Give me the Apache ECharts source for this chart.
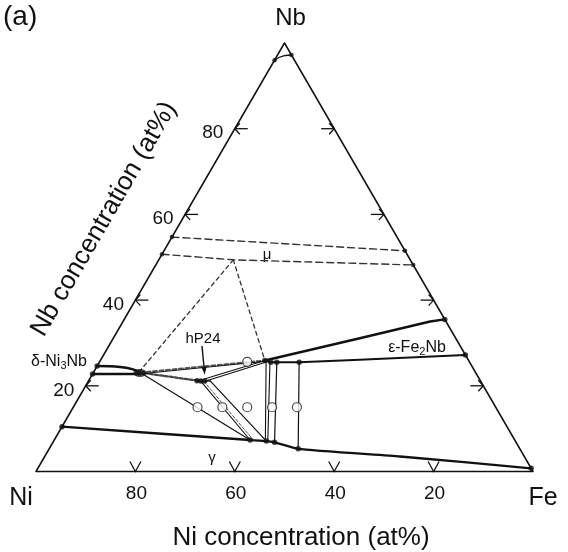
<!DOCTYPE html>
<html>
<head>
<meta charset="utf-8">
<script src="https://cdn.jsdelivr.net/npm/echarts@6/dist/echarts.min.js"></script>
<style>
  html, body { margin: 0; padding: 0; background: #fff; }
  #chart { width: 568px; height: 552px; }
</style>
</head>
<body>
<div id="chart"></div>
<script>
// Ni–Fe–Nb isothermal section. Every composition is [Ni at%, Nb at%]; Fe is the balance.
const FONT = "'Liberation Sans', Arial, Helvetica, sans-serif";

// Triangle vertices
const vertexNi = [100, 0];
const vertexFe = [0, 0];
const vertexNb = [0, 100];

// Axis ticks (Ni along the base, Nb along the two sides)
const tickValues = [20, 40, 60, 80];
const tickLabels = ['20', '40', '60', '80'];

// Small Nb-rich solid solution near the Nb corner
const nbCornerArc = [[4.0, 96.0], [1.7, 97.0], [0, 97.2]];

// mu phase field (dashed boundaries)
const muUpper = [[45.3, 54.7], [0, 51.5]];
const muLower = [[49.3, 50.7], [35.6, 49.4], [0, 48.2]];

// delta-Ni3Nb single-phase band
const deltaUpper = [[75.4, 24.6], [70.9, 24.4], [68.7, 23.9], [67.5, 23.1]];
const deltaLower = [[77.25, 22.75], [67.7, 22.75]];
const deltaEnd = [[67.6, 23.0]];

// three-phase triangle delta + Fe2Nb + mu (dashed)
const triLeft = [[35.6, 49.4], [67.2, 23.6]];
const triRight = [[35.6, 49.4], [41.0, 25.9]];

// hP24 phase
const hp24 = [[57.0, 21.2], [56.3, 21.1], [55.5, 21.1], [54.4, 21.2]];
const hp24Arrow = [[51.95, 29.3], [54.75, 22.6]];

// epsilon-Fe2Nb (Laves) single-phase field
const laveUpper = [[41.0, 25.9], [19.3, 31.1], [3.2, 35.0], [0, 35.5]];
const laveLower = [[41.0, 25.9], [40.0, 25.5], [38.8, 25.5], [34.3, 25.5], [21.8, 26.1], [0, 27.2]];

// gamma (fcc) solvus
const gammaLine = [[89.55, 10.45], [53.25, 7.35], [50.1, 7.1], [48.6, 6.8], [44.6, 5.3], [25.0, 3.5], [0, 0.75]];

// tie lines
const tieDeltaGamma = [[67.5, 23.1], [53.25, 7.35]];
const tieHpGammaA = [[56.3, 21.1], [53.25, 7.35]];
const tieHpGammaB = [[55.7, 21.1], [52.6, 7.3]];
const tieHpGammaC = [[54.4, 21.2], [50.1, 7.1]];
const tieDeltaHp = [[67.5, 23.1], [56.3, 21.1]];
const tieDeltaLave = [[67.5, 23.1], [41.0, 25.9]];
const tieDeltaLaveThin = [[67.5, 22.8], [44.7, 25.3], [41.0, 25.7]];
const tieHpLaveA = [[56.3, 21.3], [41.0, 25.9]];
const tieHpLaveB = [[56.0, 20.9], [40.7, 25.6]];
const tieLaveGammaA = [[40.8, 25.8], [50.3, 7.1]];
const tieLaveGammaB = [[40.15, 25.55], [49.8, 7.12]];
const tieLaveGammaC = [[38.8, 25.5], [48.6, 6.8]];
const tieLaveGammaD = [[34.3, 25.5], [44.6, 5.3]];

// boundary end points (filled dots)
const dotsSmall = [[4.0, 96.0], [0, 97.2], [45.3, 54.7], [0, 51.5], [49.3, 50.7], [0, 48.2]];
const dotsLarge = [[75.4, 24.6], [77.25, 22.75], [0, 35.5], [0, 27.2],
  [41.0, 25.9], [40.0, 25.5], [38.8, 25.5], [34.3, 25.5],
  [89.55, 10.45], [53.25, 7.35], [50.1, 7.1], [48.6, 6.8], [44.6, 5.3], [0, 0.75],
  [57.0, 21.2], [56.3, 21.1], [55.5, 21.1]];

// alloy compositions (open circles)
const alloys = [[60, 15], [55, 15], [50, 15], [45, 15], [40, 15], [44.7, 25.6]];

const H = Math.sqrt(3) / 2;
// ternary composition -> cartesian (Fe corner at x = 100, Nb corner on top)
function tern(c) {
  const ni = c[0], nb = c[1], fe = 100 - ni - nb;
  return [fe + nb / 2, nb * H];
}

function line(pts, width, dash, color, z) {
  return {
    type: 'line', data: pts.map(tern), symbol: 'none', clip: false, silent: true,
    animation: false, z: z || 3,
    lineStyle: { color: color || '#111', width: width, type: dash || 'solid', cap: 'round', join: 'round' }
  };
}

function dots(pts, size, filled) {
  return {
    type: 'scatter', data: pts.map(tern), symbol: 'circle', symbolSize: size, clip: false,
    silent: true, animation: false, z: 6,
    itemStyle: filled ? { color: '#111' } : { color: '#fff', borderColor: '#222', borderWidth: 1.2 }
  };
}

// tick marks: base ticks on Ni, side ticks on Nb
const tickData = [], tickSide = [], tickText = [];
tickValues.forEach((v, i) => {
  tickData.push(tern([v, 0])); tickSide.push('b'); tickText.push(tickLabels[i]);
  tickData.push(tern([100 - v, v])); tickSide.push('l'); tickText.push(tickLabels[i]);
  tickData.push(tern([0, v])); tickSide.push('r'); tickText.push('');
});

const tickSeries = {
  type: 'custom', data: tickData, clip: false, silent: true, animation: false, z: 4,
  encode: { x: 0, y: 1 },
  renderItem: function (params, api) {
    const i = params.dataIndex;
    const p = api.coord([api.value(0), api.value(1)]);
    const s = tickSide[i];
    const stroke = { stroke: '#111', lineWidth: 1.3, fill: null };
    const kids = [];
    if (s === 'b') {
      kids.push({ type: 'polyline', shape: { points: [[p[0] - 5.5, p[1] - 10], [p[0], p[1]], [p[0] + 5.5, p[1] - 10]] }, style: stroke });
      kids.push({ type: 'text', style: { text: tickText[i], x: p[0] + 1, y: p[1] + 22, align: 'center', verticalAlign: 'middle', font: '19px ' + FONT, fill: '#111' } });
    } else if (s === 'l') {
      kids.push({ type: 'polyline', shape: { points: [[p[0], p[1]], [p[0] + 13, p[1]]] }, style: stroke });
      kids.push({ type: 'polyline', shape: { points: [[p[0] + 5, p[1] - 5.5], [p[0], p[1]], [p[0] + 5, p[1] + 5.5]] }, style: stroke });
      kids.push({ type: 'text', style: { text: tickText[i], x: p[0] - 22, y: p[1] + 4.5, align: 'center', verticalAlign: 'middle', font: '19px ' + FONT, fill: '#111' } });
    } else {
      kids.push({ type: 'polyline', shape: { points: [[p[0], p[1]], [p[0] - 13, p[1]]] }, style: stroke });
      kids.push({ type: 'polyline', shape: { points: [[p[0] - 5, p[1] - 5.5], [p[0], p[1]], [p[0] - 5, p[1] + 5.5]] }, style: stroke });
    }
    return { type: 'group', children: kids };
  }
};

// pointer from the hP24 label to the phase
const arrowSeries = {
  type: 'custom', clip: false, silent: true, animation: false, z: 7,
  data: [tern(hp24Arrow[0]).concat(tern(hp24Arrow[1]))],
  encode: { x: [0, 2], y: [1, 3] },
  renderItem: function (params, api) {
    const a = api.coord([api.value(0), api.value(1)]);
    const b = api.coord([api.value(2), api.value(3)]);
    const dx = b[0] - a[0], dy = b[1] - a[1], len = Math.hypot(dx, dy);
    const ux = dx / len, uy = dy / len, head = 8, half = 2.6;
    const base = [b[0] - ux * head, b[1] - uy * head];
    return {
      type: 'group', children: [
        { type: 'line', shape: { x1: a[0], y1: a[1], x2: base[0], y2: base[1] }, style: { stroke: '#111', lineWidth: 1.4 } },
        { type: 'polygon', shape: { points: [b, [base[0] - uy * half, base[1] + ux * half], [base[0] + uy * half, base[1] - ux * half]] }, style: { fill: '#111' } }
      ]
    };
  }
};

function label(text, x, y, size, extra) {
  return Object.assign({
    type: 'text', x: x, y: y, silent: true,
    style: { text: text, font: size + 'px ' + FONT, fill: '#111', align: 'center', verticalAlign: 'middle' }
  }, extra || {});
}

const chart = echarts.init(document.getElementById('chart'), null, { renderer: 'canvas' });
chart.setOption({
  animation: false,
  backgroundColor: '#fff',
  grid: { left: 36, top: 43, width: 497, height: 428.5, containLabel: false },
  xAxis: { type: 'value', min: 0, max: 100, show: false },
  yAxis: { type: 'value', min: 0, max: 100 * H, show: false },
  series: [
    line([vertexNi, vertexFe, vertexNb, vertexNi], 1.5, 'solid', '#111', 2),
    tickSeries,
    Object.assign(line(nbCornerArc, 1.3), { smooth: true }),
    line(muUpper, 1.4, [7, 4], '#333'),
    line(muLower, 1.4, [7, 4], '#333'),
    line(triLeft, 1.3, [4, 3.5], '#333'),
    line(triRight, 1.3, [4, 3.5], '#333'),
    Object.assign(line(deltaUpper, 2.5), { smooth: 0.4 }),
    line(deltaLower, 2.5),
    line(laveUpper, 2.4),
    line(laveLower, 2.0),
    Object.assign(line(gammaLine, 2.3), { smooth: 0.15 }),
    line(tieDeltaGamma, 1.2),
    line(tieHpGammaA, 1.1),
    line(tieHpGammaB, 1.0, [3, 2], '#555'),
    line(tieHpGammaC, 1.2),
    line(tieDeltaHp, 2.3, [3, 2], '#444'),
    line(tieDeltaLave, 1.9, [4, 2.5], '#555'),
    line(tieDeltaLaveThin, 1.0),
    line(tieHpLaveA, 1.1),
    line(tieHpLaveB, 1.1),
    line(tieLaveGammaA, 1.1),
    line(tieLaveGammaB, 1.1),
    line(tieLaveGammaC, 1.2),
    line(tieLaveGammaD, 1.2),
    line(hp24, 2.3, [2, 2], '#333'),
    arrowSeries,
    dots(deltaEnd, [13, 8], true),
    dots(dotsSmall, 4.5, true),
    dots(dotsLarge, 5.5, true),
    dots(alloys, 9, false)
  ],
  graphic: [
    label('(a)', 3, 17, 28, { style: { text: '(a)', font: '28px ' + FONT, fill: '#111', align: 'left', verticalAlign: 'middle' } }),
    label('Nb', 290.5, 18, 24),
    label('Ni', 21, 498, 25),
    label('Fe', 543, 498, 25),
    label('Ni concentration (at%)', 301, 538, 26),
    label('Nb concentration (at%)', 104, 219, 26, { rotation: Math.PI / 3 }),
    label('μ', 267, 255, 15),
    label('γ', 212, 458, 15),
    label('hP24', 203, 339, 15),
    {
      type: 'text', x: 59, y: 362, silent: true,
      style: {
        text: '{a|δ-Ni}{s|3}{a|Nb}', align: 'center', verticalAlign: 'middle', fill: '#111',
        rich: { a: { font: '16px ' + FONT, fill: '#111' }, s: { font: '11px ' + FONT, fill: '#111', padding: [7, 0, 0, 0] } }
      }
    },
    {
      type: 'text', x: 417, y: 348, silent: true,
      style: {
        text: '{a|ε-Fe}{s|2}{a|Nb}', align: 'center', verticalAlign: 'middle', fill: '#111',
        rich: { a: { font: '16px ' + FONT, fill: '#111' }, s: { font: '11px ' + FONT, fill: '#111', padding: [7, 0, 0, 0] } }
      }
    }
  ]
});
</script>
</body>
</html>
